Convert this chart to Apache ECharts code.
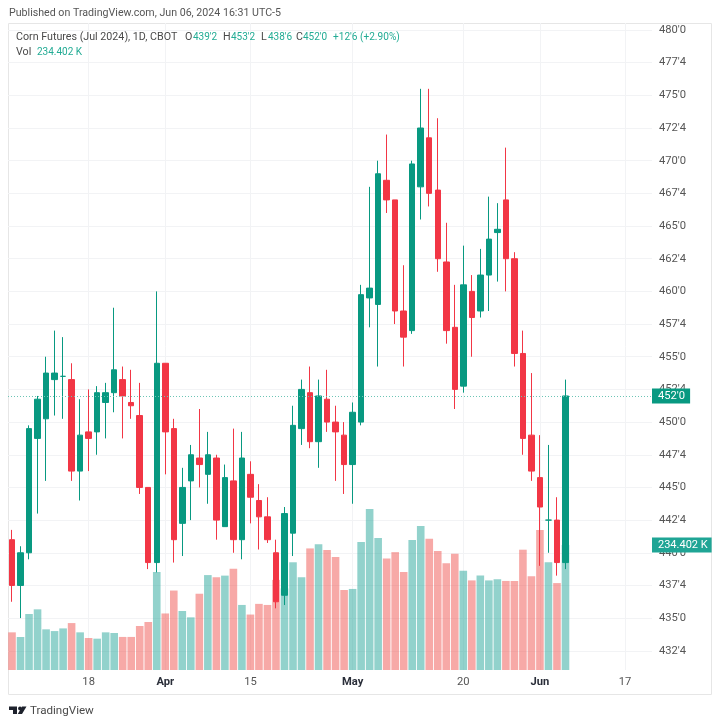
<!DOCTYPE html>
<html>
<head>
<meta charset="utf-8">
<style>html,body{margin:0;padding:0;background:#fff}#c{width:720px;height:726px}</style>
<script src="https://cdn.jsdelivr.net/npm/echarts@6/dist/echarts.min.js"></script>
</head>
<body>
<div id="c"></div>
<script>
const opens = [441,437.5,440,448.75,450.25,453.25,453.5,453.25,446.25,449.25,449.25,451.5,452.25,453.25,451.5,450.5,445,439.25,454.5,449.5,442.25,445.5,447.25,446,447.25,442,445.5,441,446,444,442.75,440,436.75,441.5,449.5,452.25,448.5,451.75,450,449,446.75,450,459.5,459,468.5,467,458.5,457,468,471.75,467.75,462.25,457.25,452.75,460,458.5,461.25,464.5,467,462.5,455.25,449,445.75,442.5,442.5,439.25];
const closes = [437.5,440,449.5,451.75,453.75,453.75,453.5,446.25,449,448.75,452.25,452.25,454,452,451.25,445,439.25,454.5,449.25,441,445,447.5,446.75,447.5,442.5,445.75,441,447.25,444.25,442.75,441,436.25,443,449.75,452.5,448.5,452,450,449.25,446.75,450.75,459.75,460.25,469,467,458.5,456.5,469.75,472.5,467.5,462.5,457,452.5,460.5,458,461.25,464,464.75,462.5,455.25,448.75,446.25,443.5,442.5,439.25,452];
const lows = [436.25,435,439.5,443,445.5,450.5,450.25,445.5,444,446.25,447.5,448.75,450.75,448.75,450.25,444.5,438.75,438.5,446,439.25,439.75,442.5,445,443.75,441,442,440,439.5,442.25,440.25,440.75,435.75,436,439.75,448.25,448,446.5,449.25,445.5,444.5,443.75,449.75,457.25,454.25,466,457.5,454.25,456.75,465.5,466.5,461.5,456,451,452.25,455,458,458.5,460.75,460,454.25,447.5,445.5,439,440,438.25,438.75];
const highs = [441.75,440.5,449.75,452,455,457,456.5,454.5,451.75,452.5,452.75,453,458.75,454.25,454,453,445,460,454.5,450.25,446.5,448.25,451,449.25,447.5,446.75,449.5,449.25,447,445.25,444.25,441,443.5,451.25,453.25,454.25,453.25,454,451.25,450,451.5,460.5,468,470,472,467,462,470,475.5,475.5,473.25,465.25,460.5,463.5,461.25,463.25,467.25,466.75,471,463,457,453.75,449,448.25,444.25,453.25];
const volumes = [70.6,61.9,105,113.75,76.25,73,78,88,70.6,60,58.75,70.6,69.4,62,62,82.5,90,183.75,106,149,110.6,98.75,143,178,174,177,190,122,104,124,122,169,153,202,174,228,236,225,212,150,152,240,302,247.5,209,221,184,244,270,246,223,200,218,186,168,177,168,170,167,167,225.6,175.6,262.5,202,163,234.402];
const priceTicks = [432.5,435,437.5,440,442.5,445,447.5,450,452.5,455,457.5,460,462.5,465,467.5,470,472.5,475,477.5,480];
const timeTickIndex = [9,18,28,40,53,62,72];
const timeTickLabels = ['18','Apr','15','May','20','Jun','17'];
const boldTimeLabels = ['Apr','May','Jun'];
const lastPrice = 452, lastPriceLabel = "452'0";
const lastVolume = 234.402, lastVolumeLabel = '234.402 K';

const UP='#089981', DOWN='#f23645', TXT='#4a4a4a', GRID='#f2f3f5', GREEN='#22ab94';
const FONT='Roboto, "Liberation Sans", sans-serif';
const fmtPrice = v => { const i=Math.floor(v), f=Math.round((v-i)*8); return i+"'"+f; };
const candleData = opens.map((o,i)=>[i,o,closes[i],lows[i],highs[i]]);
const volumeData = volumes.map((v,i)=>({value:[i,v],itemStyle:{color:closes[i]>=opens[i]?'rgba(38,166,154,0.5)':'rgba(239,83,80,0.5)'}}));

const t=(text,x,y,fill,size)=>({type:'text',silent:true,x,y,z:50,style:{text,fill,font:(size||10.7)+'px '+FONT,textVerticalAlign:'middle'}});
const legendParts = [
 ['Corn Futures (Jul 2024), 1D, CBOT',16,TXT,10.7],['O',185,TXT,10.7],["439'2",193,GREEN,10],['H',223,TXT,10.7],["453'2",231,GREEN,10],
 ['L',261,TXT,10.7],["438'6",268,GREEN,10],['C',296,TXT,10.7],["452'0",303,GREEN,10],["+12'6 (+2.90%)",333,GREEN,10.1]];

const chart=echarts.init(document.getElementById('c'),null,{renderer:'canvas'});
chart.setOption({
 animation:false,
 backgroundColor:'#fff',
 grid:{left:8,top:23,width:644,height:647,containLabel:false},
 xAxis:{type:'value',min:-0.47,max:75.16,
  axisLine:{show:false},
  axisTick:{show:false,customValues:timeTickIndex},
  splitLine:{show:true,lineStyle:{color:GRID,width:1}},
  axisLabel:{customValues:timeTickIndex,margin:7,hideOverlap:false,showMinLabel:true,showMaxLabel:true,
   formatter:v=>{const s=timeTickLabels[timeTickIndex.indexOf(v)];return boldTimeLabels.includes(s)?'{b|'+s+'}':'{n|'+s+'}';},
   rich:{b:{fontFamily:FONT,fontSize:11.2,fontWeight:'bold',color:'#2a2e39'},n:{fontFamily:FONT,fontSize:11.2,color:'#555'}}}},
 yAxis:[{type:'value',position:'right',min:431.03,max:480.536,scale:true,
  axisLine:{show:false},
  axisTick:{show:false,customValues:priceTicks},
  splitLine:{show:true,lineStyle:{color:GRID,width:1}},
  axisLabel:{customValues:priceTicks,margin:7,color:'#555',fontFamily:FONT,fontSize:11.2,formatter:fmtPrice}},
  {type:'value',show:false,min:0,max:1213.3,splitLine:{show:false}}],
 series:[
  {type:'bar',xAxisIndex:0,yAxisIndex:1,data:volumeData,barWidth:7.6,z:2,silent:true,
   markLine:{silent:true,symbol:'none',animation:false,lineStyle:{color:'rgba(0,0,0,0)',width:0},
    data:[{yAxis:lastVolume}],
    label:{show:true,position:'end',distance:0,formatter:lastVolumeLabel,color:'#fff',backgroundColor:'#1fa595',fontFamily:FONT,fontSize:11,padding:[2,4,2,6],lineHeight:11},z:20}},
  {type:'candlestick',xAxisIndex:0,yAxisIndex:0,data:candleData,barWidth:6,z:3,silent:true,
   itemStyle:{color:UP,color0:DOWN,borderColor:UP,borderColor0:DOWN,borderColorDoji:UP,borderWidth:1},
   markLine:{silent:true,symbol:'none',animation:false,
    lineStyle:{color:'#6cc5b5',type:[1,2],width:1},
    data:[{yAxis:lastPrice}],
    label:{show:true,position:'end',distance:0,formatter:lastPriceLabel,color:'#fff',backgroundColor:UP,fontFamily:FONT,fontSize:11.2,padding:[2,5,2,6],lineHeight:11},z:20}}
 ],
 graphic:[
  {type:'rect',silent:true,z:0,shape:{x:8.5,y:23.5,width:703,height:671},style:{fill:'none',stroke:'#e6e6e6',lineWidth:1}},
  t('Published on TradingView.com, Jun 06, 2024 16:31 UTC-5',9,13,'#555555',10.65),
  ...legendParts.map(p=>t(p[0],p[1],37,p[2],p[3])),
  t('Vol',16,52,TXT,10.7),
  t('234.402 K',37,52,GREEN,10),
  {type:'polygon',silent:true,z:50,shape:{points:[[9,706.5],[17,706.5],[17,714],[13,714],[13,710],[9,710]]},style:{fill:'#1e222d'}},
  {type:'circle',silent:true,z:50,shape:{cx:20,cy:708.4,r:1.9},style:{fill:'#1e222d'}},
  {type:'polygon',silent:true,z:50,shape:{points:[[22,706.5],[26.5,706.5],[22,714],[17.8,714]]},style:{fill:'#1e222d'}},
  t('TradingView',30,711,'#4a4a4a',11.6)
 ]
});
</script>
</body>
</html>
